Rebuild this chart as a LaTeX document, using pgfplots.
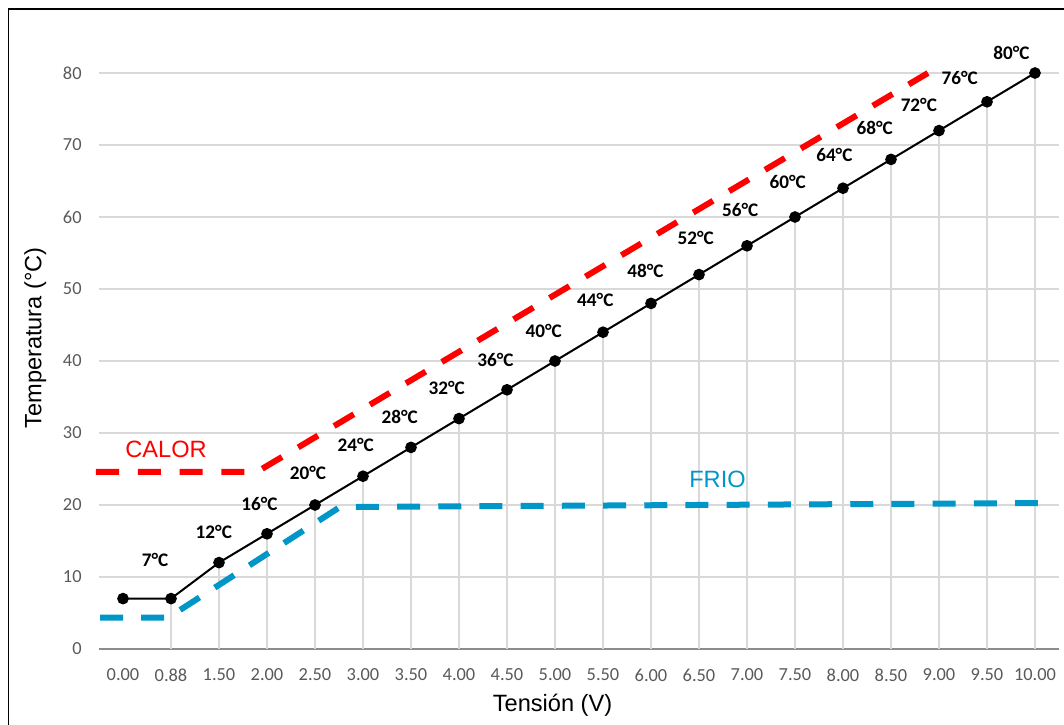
\documentclass[border=0pt]{standalone}
\usepackage{fontspec}
\setmainfont{Carlito}
\newfontfamily\arialf{Liberation Sans}
\usepackage{pgfplots}
\pgfplotsset{compat=1.18}
\definecolor{gridgray}{HTML}{D9D9D9}
\definecolor{axisgray}{HTML}{8C8C8C}
\definecolor{tickgray}{HTML}{595959}
\definecolor{frioblue}{HTML}{0096C8}
\definecolor{calorred}{HTML}{FF0000}
\begin{document}
\begin{tikzpicture}
\path[use as bounding box] (0,0) rectangle (532bp,362.5bp);
\draw[line width=0.9bp] (4.25bp,-20bp) rectangle (560bp,357.9bp);
\begin{axis}[
  at={(49.5bp,38bp)}, anchor=south west,
  scale only axis, width=480bp, height=288bp,
  xmin=-0.5, xmax=19.5, ymin=0, ymax=80,
  clip=false,
  axis lines*=left,
  y axis line style={draw=none},
  x axis line style={draw=axisgray, line width=0.75bp},
  major tick length=0pt,
  xtick={0,...,19},
  xticklabels={0.00,0.88,1.50,2.00,2.50,3.00,3.50,4.00,4.50,5.00,5.50,6.00,6.50,7.00,7.50,8.00,8.50,9.00,9.50,10.00},
  ytick={0,10,...,80},
  ymajorgrids,
  grid style={draw=gridgray, line width=0.65bp},
  /pgf/number format/assume math mode=true,
  yticklabel style={font=\fontsize{9.2bp}{11bp}\selectfont, text=tickgray, inner sep=0pt, anchor=east, xshift=-8.5bp},
  xticklabel style={font=\fontsize{9.2bp}{11bp}\selectfont, text=tickgray, inner sep=0pt, anchor=north, yshift=-9.6bp},
  xlabel={Tensión (V)},
  ylabel={Temperatura (°C)},
  xlabel style={font=\arialf\fontsize{11.8bp}{14bp}\selectfont, at={(axis description cs:0.4724,-0.1089)}, anchor=base, inner sep=0pt},
  ylabel style={font=\arialf\fontsize{11.8bp}{14bp}\selectfont, at={(axis description cs:-0.0599,0.540)}, anchor=base, inner sep=0pt},
]
% drop lines
\addplot[ycomb, draw=gridgray, line width=0.7bp, no marks] coordinates {
(1,7)(2,12)(3,16)(4,20)(5,24)(6,28)(7,32)(8,36)(9,40)(10,44)(11,48)(12,52)(13,56)(14,60)(15,64)(16,68)(17,72)(18,76)(19,80)};
% main series
\addplot[black, line width=1bp, mark=*, mark size=2.4bp, mark options={solid, fill=black}] coordinates {
(0,7)(1,7)(2,12)(3,16)(4,20)(5,24)(6,28)(7,32)(8,36)(9,40)(10,44)(11,48)(12,52)(13,56)(14,60)(15,64)(16,68)(17,72)(18,76)(19,80)};
% CALOR
\addplot[calorred, line width=3bp, dash pattern=on 11.5bp off 9.39bp, no marks] coordinates {
(-0.5625,24.6)(2.79,24.6)(16.77,80)};
% FRIO
\addplot[frioblue, line width=3bp, dash pattern=on 11.5bp off 9.1bp, no marks] coordinates {
(-0.479,4.35)(0.94,4.35)(4.52,19.72)(19.06,20.27)};
% data labels
\begin{scope}[every node/.style={font=\bfseries\fontsize{9.6bp}{11bp}\selectfont, inner sep=0pt, anchor=center}]
\node at (axis cs:0.667,12.36) {7°C};
\node at (axis cs:1.892,16.21) {12°C};
\node at (axis cs:2.844,20.14) {16°C};
\node at (axis cs:3.854,24.39) {20°C};
\node at (axis cs:4.85,28.33) {24°C};
\node at (axis cs:5.765,32.26) {28°C};
\node at (axis cs:6.744,36.21) {32°C};
\node at (axis cs:7.76,40.14) {36°C};
\node at (axis cs:8.765,44.21) {40°C};
\node at (axis cs:9.84,48.47) {44°C};
\node at (axis cs:10.885,52.53) {48°C};
\node at (axis cs:11.93,57.08) {52°C};
\node at (axis cs:12.86,60.97) {56°C};
\node at (axis cs:13.85,64.90) {60°C};
\node at (axis cs:14.82,68.61) {64°C};
\node at (axis cs:15.66,72.32) {68°C};
\node at (axis cs:16.58,75.56) {72°C};
\node at (axis cs:17.43,79.26) {76°C};
\node at (axis cs:18.51,82.74) {80°C};
\end{scope}
\node[font=\arialf\fontsize{11.8bp}{14bp}\selectfont, text=calorred, inner sep=0pt] at (axis cs:0.896,27.78) {CALOR};
\node[font=\arialf\fontsize{11.8bp}{14bp}\selectfont, text=frioblue, inner sep=0pt] at (axis cs:12.385,23.58) {FRIO};
\end{axis}
\end{tikzpicture}
\end{document}
